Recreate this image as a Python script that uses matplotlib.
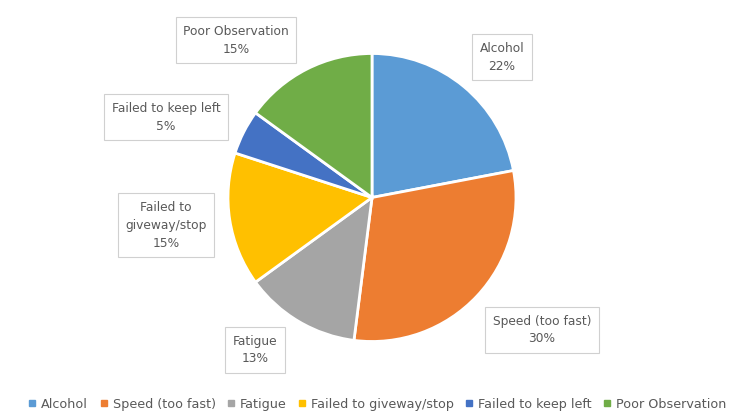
# Contributing factors pie chart with boxed data labels

import matplotlib.pyplot as plt
from matplotlib.lines import Line2D

factors = ['Alcohol', 'Speed (too fast)', 'Fatigue', 'Failed to giveway/stop',
           'Failed to keep left', 'Poor Observation']
shares = [22, 30, 13, 15, 5, 15]
label_text = ['Alcohol', 'Speed (too fast)', 'Fatigue', 'Failed to\ngiveway/stop',
              'Failed to keep left', 'Poor Observation']
colors = ['#5B9BD5', '#ED7D31', '#A5A5A5', '#FFC000', '#4472C4', '#70AD47']

# label box centres in pixels from top-left
label_pos = [(502, 57), (542, 330), (255, 350), (166, 225), (166, 117), (236, 40)]

W, H = 733, 412
fig = plt.figure(figsize=(W / 100, H / 100), dpi=100)
ax = fig.add_axes([0, 0, 1, 1])
ax.set_xlim(0, W)
ax.set_ylim(0, H)
ax.set_aspect('equal')
ax.axis('off')

wedges, _ = ax.pie(shares, colors=colors, startangle=90, counterclock=False,
                   center=(372, H - 197.5), radius=144,
                   wedgeprops=dict(edgecolor='white', linewidth=2))
ax.set_xlim(0, W)
ax.set_ylim(0, H)

for txt, val, (x, y) in zip(label_text, shares, label_pos):
    ax.text(x, H - y, f'{txt}\n{val}%', ha='center', va='center', fontsize=8.8,
            color='#595959', linespacing=1.5,
            bbox=dict(boxstyle='square,pad=0.6', facecolor='white', edgecolor='#D0D0D0', linewidth=0.8))

handles = [Line2D([], [], marker='s', linestyle='', markersize=4, color=c) for c in colors]
ax.legend(handles, factors, loc='lower center', bbox_to_anchor=(0.515, -0.025), ncol=6,
          frameon=False, fontsize=9.2, labelcolor='#595959', handlelength=0.6,
          handletextpad=0.4, columnspacing=0.9)

fig.savefig('out.png', dpi=100)
